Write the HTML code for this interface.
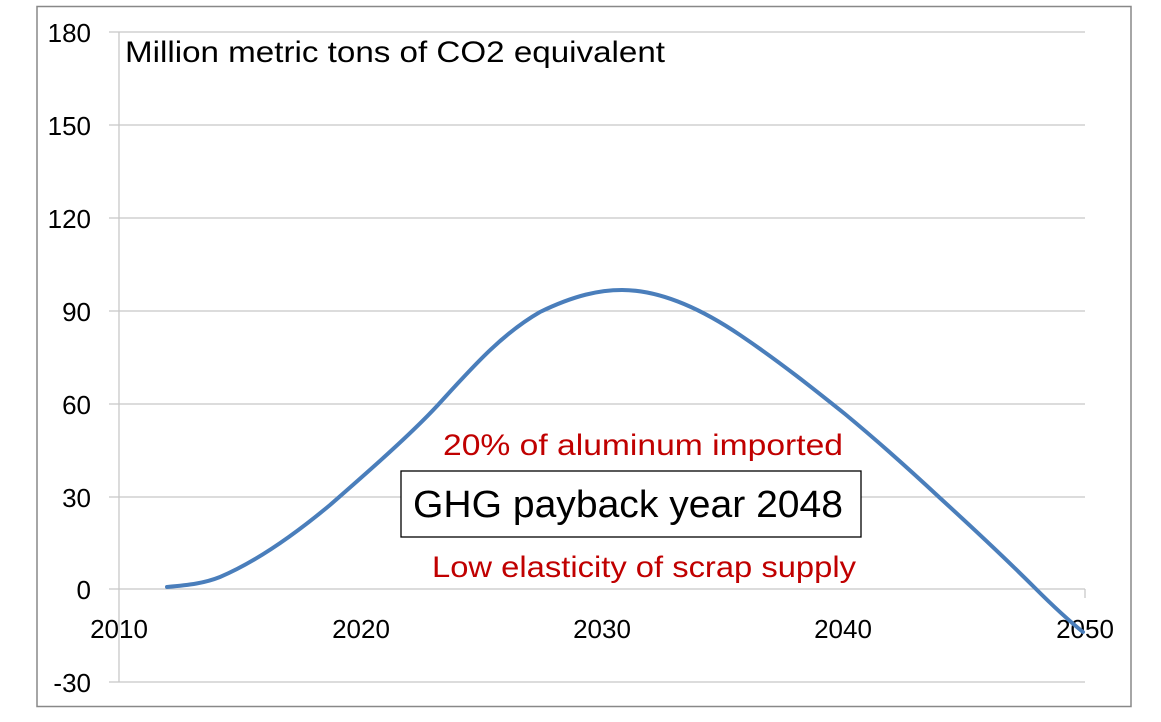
<!DOCTYPE html>
<html><head><style>
body{margin:0;background:#fff;}
svg text{font-family:"Liberation Sans",sans-serif;}
</style></head><body>
<svg width="1161" height="717" xmlns="http://www.w3.org/2000/svg">
<rect x="37" y="6.5" width="1094" height="700" fill="#fff" stroke="#888" stroke-width="1.5"/>
<g stroke="#c8c8c8" stroke-width="1.3">
<line x1="109" y1="32" x2="1085" y2="32"/>
<line x1="109" y1="125" x2="1085" y2="125"/>
<line x1="109" y1="218" x2="1085" y2="218"/>
<line x1="109" y1="311" x2="1085" y2="311"/>
<line x1="109" y1="404" x2="1085" y2="404"/>
<line x1="109" y1="497" x2="1085" y2="497"/>
<line x1="109" y1="589" x2="1085" y2="589"/>
<line x1="109" y1="682" x2="1085" y2="682"/>
<line x1="119" y1="32" x2="119" y2="682"/>
<line x1="1085" y1="589" x2="1085" y2="598"/>
</g>
<g font-size="26" text-anchor="end" fill="#000">
<text x="91" y="42">180</text>
<text x="91" y="135">150</text>
<text x="91" y="228">120</text>
<text x="91" y="321">90</text>
<text x="91" y="414">60</text>
<text x="91" y="507">30</text>
<text x="91" y="599">0</text>
<text x="91" y="692">-30</text>
</g>
<g font-size="26" text-anchor="middle" fill="#000">
<text x="119" y="638">2010</text>
<text x="361" y="638">2020</text>
<text x="602" y="638">2030</text>
<text x="843" y="638">2040</text>
<text x="1085" y="638">2050</text>
</g>
<text x="125" y="62" font-size="30" textLength="540" lengthAdjust="spacingAndGlyphs">Million metric tons of CO2 equivalent</text>
<path d="M167,587 C190,585 205,583 220,577 C260,560 300,530 330,505 C370,470 410,435 437,406 C470,370 500,335 540,312 C575,295 600,290 622,290 C660,290 700,308 740,335 C780,362 815,390 845,414 C880,443 910,470 940,498 C975,530 1005,558 1035,588 C1055,608 1068,620 1083,632" fill="none" stroke="#4a7ebb" stroke-width="4" stroke-linecap="round"/>
<text x="443" y="455" font-size="30" fill="#c00000" textLength="400" lengthAdjust="spacingAndGlyphs">20% of aluminum imported</text>
<rect x="401" y="471" width="460" height="66" fill="#fff" stroke="#000" stroke-width="1.3"/>
<text x="413" y="517" font-size="38" fill="#000" textLength="430" lengthAdjust="spacingAndGlyphs">GHG payback year 2048</text>
<text x="432" y="577" font-size="30" fill="#c00000" textLength="424" lengthAdjust="spacingAndGlyphs">Low elasticity of scrap supply</text>
</svg>
</body></html>
